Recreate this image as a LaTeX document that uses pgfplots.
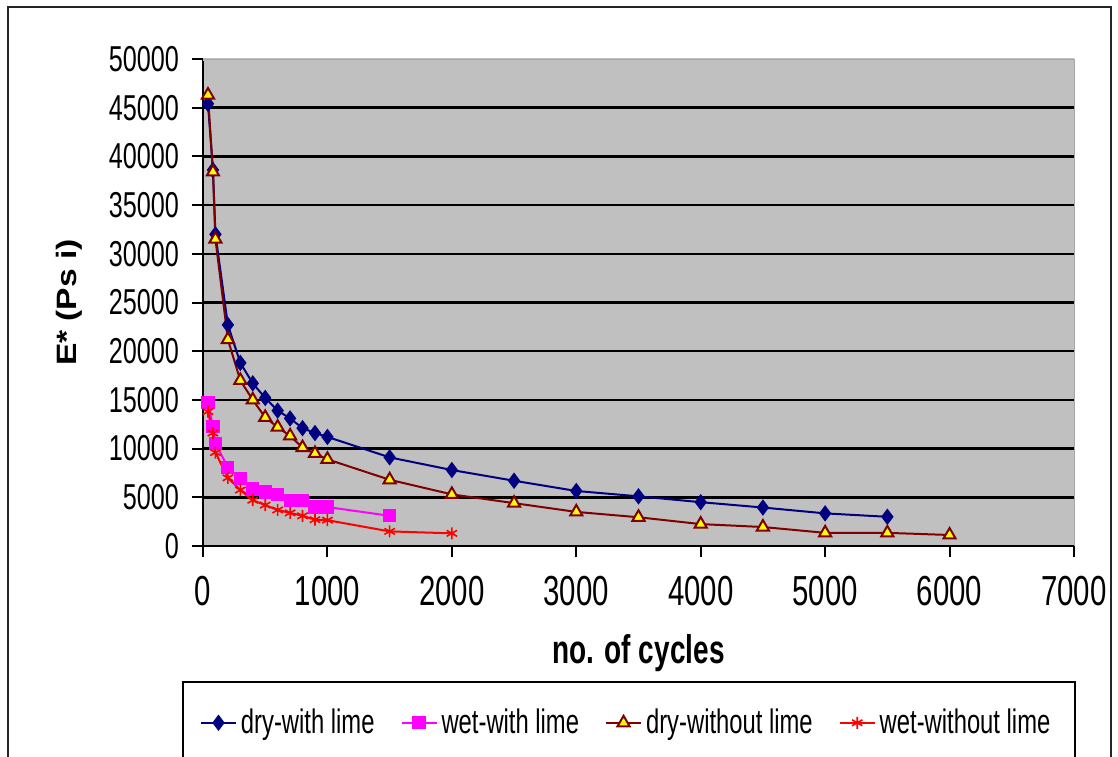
\documentclass[border=0pt]{standalone}
\usepackage{pgfplots}
\pgfplotsset{compat=1.18}
\usepackage{fontspec}
\setmainfont{Liberation Sans}[FakeStretch=0.7]
\newfontfamily\ylabfont{Liberation Sans}[FakeStretch=1.2]
\definecolor{navyS}{RGB}{0,0,128}
\definecolor{magS}{RGB}{255,0,255}
\definecolor{maroonS}{RGB}{128,0,0}
\definecolor{redS}{RGB}{255,0,0}
\definecolor{yelS}{RGB}{255,255,0}
\definecolor{bgS}{RGB}{192,192,192}
\begin{document}
\begin{tikzpicture}[x=0.5pt,y=0.5pt]
\useasboundingbox (0,0) rectangle (1118,756);
% outer chart border (px coords, y flipped)
\draw[line width=1.2pt,black!85] (8,749) rectangle (1111,-20);
% legend box
\draw[line width=1pt,black] (183,74) rectangle (1075,-20);
\begin{axis}[
  at={(101.5pt,105pt)}, anchor=south west,
  scale only axis, width=435.5pt, height=243.5pt,
  xmin=0, xmax=7000, ymin=0, ymax=50000,
  xtick={0,1000,...,7000}, ytick={0,5000,...,50000},
  scaled x ticks=false, scaled y ticks=false,
  /pgf/number format/assume math mode=true,
  /pgf/number format/1000 sep={},
  axis x line*=bottom, axis y line*=left,
  axis line style={line width=1pt,black},
  tick align=outside, major tick length=5.5pt,
  tick style={line width=1pt,black},
  ymajorgrids, grid style={line width=1.2pt,black},
  axis background/.style={fill=bgS, draw=gray!70},
  xticklabel style={font=\fontsize{21}{21}\selectfont, yshift=-6pt},
  yticklabel style={font=\fontsize{18}{18}\selectfont, xshift=-3pt},
  xlabel={no. of cycles},
  xlabel style={font=\bfseries\fontsize{20}{20}\selectfont, at={(axis description cs:0.5,-0.22)}, anchor=center},
  ylabel={E* (Ps i)},
  ylabel style={font=\ylabfont\bfseries\fontsize{14}{14}\selectfont, at={(axis description cs:-0.154,0.5)}, anchor=center},
  legend columns=4,
  legend style={draw=none, fill=none, at={(axis description cs:0.487,-0.363)}, anchor=center,
    font=\fontsize{17}{17}\selectfont, /tikz/every even column/.append style={column sep=11pt}},
  legend image code/.code={\draw[mark repeat=2,mark phase=2,#1] plot coordinates {(0pt,0pt) (8.75pt,0pt) (17.5pt,0pt)};},
]
\addplot[color=navyS, line width=1pt, mark=diamond*, mark size=3.3pt, mark options={fill=navyS,draw=navyS}] coordinates {
(40,45400) (80,38600) (100,32000) (200,22700) (300,18800) (400,16700) (500,15200) (600,13900) (700,13100) (800,12100) (900,11600) (1000,11200) (1500,9100) (2000,7800) (2500,6700) (3000,5650) (3500,5100) (4000,4500) (4500,3950) (5000,3350) (5500,3000)};
\addlegendentry{dry-with lime}
\addplot[color=magS, line width=1pt, mark=square*, mark size=2.8pt, mark options={fill=magS,draw=magS}] coordinates {
(40,14700) (80,12300) (100,10500) (200,8100) (300,6900) (400,5850) (500,5550) (600,5250) (700,4700) (800,4700) (900,4000) (1000,4000) (1500,3100)};
\addlegendentry{wet-with lime}
\addplot[color=maroonS, line width=1pt, mark=triangle*, mark size=3.5pt, mark options={fill=yelS,draw=maroonS,line width=1pt}] coordinates {
(40,46300) (80,38400) (100,31500) (200,21200) (300,17000) (400,15000) (500,13200) (600,12200) (700,11300) (800,10100) (900,9500) (1000,8900) (1500,6800) (2000,5300) (2500,4400) (3000,3500) (3500,2950) (4000,2250) (4500,1950) (5000,1350) (5500,1350) (6000,1130)};
\addlegendentry{dry-without lime}
\addplot[color=redS, line width=1pt, mark=asterisk, mark size=3pt, mark options={draw=redS,line width=0.8pt}] coordinates {
(40,13800) (80,11600) (100,9600) (200,7000) (300,5750) (400,4700) (500,4200) (600,3700) (700,3400) (800,3100) (900,2700) (1000,2650) (1500,1500) (2000,1300)};
\addlegendentry{wet-without lime}
\draw[line width=1.6pt, bgS] (rel axis cs:0,1) -- (rel axis cs:1,1);
\draw[line width=0.4pt, gray!70] (rel axis cs:0,1) -- (rel axis cs:1,1);
\end{axis}
\end{tikzpicture}
\end{document}
